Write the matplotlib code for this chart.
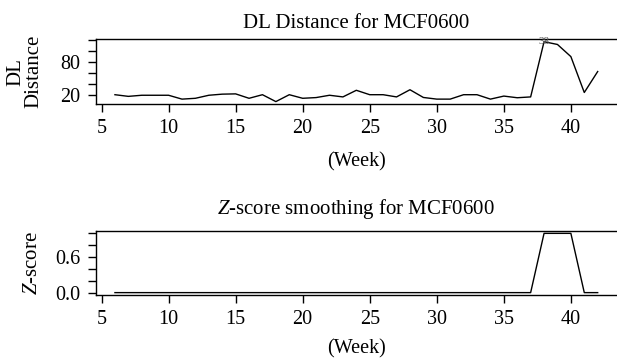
import matplotlib
matplotlib.use("Agg")
import matplotlib.pyplot as plt

# fuente tipo serif como en la figura original
plt.rcParams['font.family'] = ['Liberation Serif', 'DejaVu Serif']
plt.rcParams['mathtext.fontset'] = 'custom'
plt.rcParams['mathtext.rm'] = 'Liberation Serif'
plt.rcParams['mathtext.it'] = 'Liberation Serif:italic'

# datos
semanas = [6, 7, 8, 9, 10, 11, 12, 13, 14, 15, 16, 17, 18, 19, 20, 21, 22, 23,
           24, 25, 26, 27, 28, 29, 30, 31, 32, 33, 34, 35, 36, 37, 38, 39, 40,
           41, 42]
dl_distancia = [21, 18, 20, 20, 20, 13, 14.5, 20, 22, 22.5, 14.5, 21, 8.5, 21,
                14.5, 15.8, 20, 17, 29, 21, 21, 17, 30, 16, 13, 13, 21, 21,
                13, 18.5, 15.5, 17, 117, 112, 90, 25, 63]
z_score = [0, 0, 0, 0, 0, 0, 0, 0, 0, 0, 0, 0, 0, 0, 0, 0, 0, 0, 0, 0, 0, 0,
           0, 0, 0, 0, 0, 0, 0, 0, 0, 0, 1, 1, 1, 0, 0]
semana_pico = 38

x_ticks = [5, 10, 15, 20, 25, 30, 35, 40]
y_ticks_dl = [20, 40, 60, 80, 100, 120]
y_labels_dl = ['20', '', '', '80', '', '']
y_ticks_z = [0.0, 0.2, 0.4, 0.6, 0.8, 1.0]
y_labels_z = ['0.0', '', '', '0.6', '', '']

fig = plt.figure(figsize=(6.17, 3.59), dpi=100)
ax1 = fig.add_axes([0.155, 0.7103, 0.845, 0.1802])
ax2 = fig.add_axes([0.155, 0.1783, 0.845, 0.1783])


def estilo(ax, pad_label):
    ax.margins(x=0.04, y=0.04)
    ax.spines['right'].set_visible(False)
    for s in ['left', 'top', 'bottom']:
        ax.spines[s].set_linewidth(1.0)
    ax.tick_params(direction='out', length=5.5, width=1.0, labelsize=14.5,
                   pad=5.5)
    ax.set_xticks(x_ticks)
    ax.set_xlabel('(Week)', fontsize=14.5, labelpad=pad_label)


# grafica de distancia DL
ax1.plot(semanas, dl_distancia, '-k', linewidth=1.0)
i = semanas.index(semana_pico)
ax1.text(semana_pico, dl_distancia[i], str(semana_pico), fontsize=8,
         color='#555555', ha='center', va='center')
estilo(ax1, 10)
ax1.set_yticks(y_ticks_dl)
ax1.set_yticklabels(y_labels_dl)
ax1.set_title('DL Distance for MCF0600', fontsize=15, pad=8)
ax1.set_ylabel('DL\nDistance', fontsize=15, linespacing=0.95)
ax1.yaxis.set_label_coords(-0.100, 0.5)

# grafica del z-score suavizado
ax2.plot(semanas, z_score, '-k', linewidth=1.0)
estilo(ax2, 7.5)
ax2.set_yticks(y_ticks_z)
ax2.set_yticklabels(y_labels_z)
ax2.set_title('$Z$-score smoothing for MCF0600', fontsize=15, pad=12)
ax2.set_ylabel('$Z$-score', fontsize=15)
ax2.yaxis.set_label_coords(-0.102, 0.5)

fig.savefig('out.png', dpi=100)
